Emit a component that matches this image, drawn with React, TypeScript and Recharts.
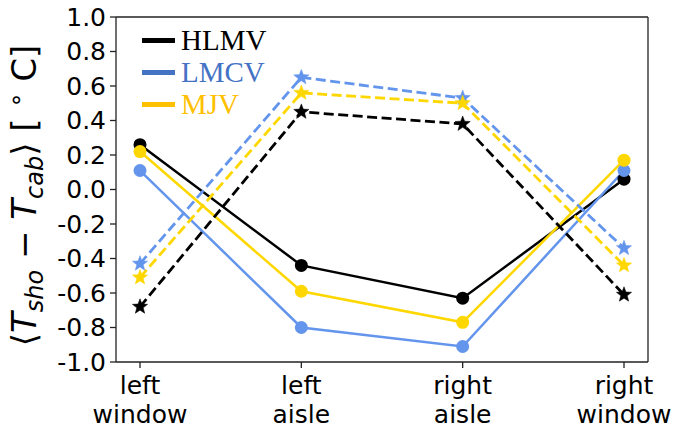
import { LineChart, Line, XAxis, YAxis, Legend } from 'recharts'

const positions = ['left window', 'left aisle', 'right aisle', 'right window']

// solid lines with circles
const hlmvSolid = [0.26, -0.44, -0.63, 0.06]
const lmcvSolid = [0.11, -0.8, -0.91, 0.11]
const mjvSolid = [0.22, -0.59, -0.77, 0.17]

// dashed lines with stars
const hlmvDashed = [-0.68, 0.45, 0.38, -0.61]
const lmcvDashed = [-0.43, 0.65, 0.53, -0.34]
const mjvDashed = [-0.51, 0.56, 0.5, -0.44]

const yTicks = [-1, -0.8, -0.6, -0.4, -0.2, 0, 0.2, 0.4, 0.6, 0.8, 1]

const legendNames = ['HLMV', 'LMCV', 'MJV']
const legendColors = ['#000000', '#4472C4', '#FFC000']

const BLACK = '#000000'
const BLUE = '#6495ED'
const GOLD = '#FFD700'

const chartData = positions.map((pos, i) => ({
  pos,
  hlmvSolid: hlmvSolid[i],
  lmcvSolid: lmcvSolid[i],
  mjvSolid: mjvSolid[i],
  hlmvDashed: hlmvDashed[i],
  lmcvDashed: lmcvDashed[i],
  mjvDashed: mjvDashed[i],
}))

const tickFont = { fontFamily: 'DejaVu Sans', fontSize: 25, fill: '#000' }
const frame = { stroke: '#222', strokeWidth: 1.3 }

function starDot(color: string) {
  return (props: any) => {
    const { cx, cy, index } = props
    if (cx == null || cy == null) return <g key={index} />
    const outer = 8
    const inner = 3.4
    const pts: string[] = []
    for (let k = 0; k < 10; k++) {
      const r = k % 2 === 0 ? outer : inner
      const a = -Math.PI / 2 + (k * Math.PI) / 5
      pts.push(`${cx + r * Math.cos(a)},${cy + r * Math.sin(a)}`)
    }
    return <polygon key={index} points={pts.join(' ')} fill={color} stroke={color} strokeWidth={0.5} />
  }
}

function XTick(props: any) {
  const { x, y, payload } = props
  const [first, second] = String(payload.value).split(' ')
  return (
    <text x={x} y={y} textAnchor="middle" {...tickFont}>
      <tspan x={x} dy={24}>{first}</tspan>
      <tspan x={x} dy={29}>{second}</tspan>
    </text>
  )
}

function YLabel(props: any) {
  const vb = props.viewBox || { x: 0, y: 17, width: 116, height: 345 }
  const cx = vb.x + 36
  const cy = vb.y + vb.height / 2 + 6
  const sub = 24
  return (
    <text
      x={cx}
      y={cy}
      transform={`rotate(-90 ${cx} ${cy})`}
      textAnchor="middle"
      fontFamily="DejaVu Sans"
      fontSize={34}
      fill="#000"
    >
      <tspan>⟨</tspan>
      <tspan fontStyle="italic">T</tspan>
      <tspan fontStyle="italic" fontSize={sub} dy={7}>sho</tspan>
      <tspan dy={-7}> − </tspan>
      <tspan fontStyle="italic">T</tspan>
      <tspan fontStyle="italic" fontSize={sub} dy={7}>cab</tspan>
      <tspan dy={-7}>⟩ [ </tspan>
      <tspan fontSize={sub} dy={-12}>∘</tspan>
      <tspan dy={12}> C]</tspan>
    </text>
  )
}

function LegendBox() {
  return (
    <div>
      {legendNames.map((name, i) => (
        <div key={name} style={{ display: 'flex', alignItems: 'center', height: 32 }}>
          <span style={{ display: 'inline-block', width: 33, height: 5, background: legendColors[i] }} />
          <span
            style={{
              marginLeft: 6,
              fontFamily: 'Liberation Serif',
              fontSize: 29,
              color: legendColors[i],
              lineHeight: '32px',
            }}
          >
            {name}
          </span>
        </div>
      ))}
    </div>
  )
}

export default function App() {
  return (
    <div style={{ position: 'absolute', left: 0, top: 0, background: '#fff' }}>
      <LineChart width={688} height={428} data={chartData} margin={{ top: 16, right: 39, bottom: 0, left: 0 }}>
        <XAxis
          dataKey="pos"
          height={66}
          padding={{ left: 24, right: 24 }}
          tick={<XTick />}
          tickSize={6}
          tickLine={frame}
          axisLine={frame}
          interval={0}
        />
        <XAxis
          xAxisId="top"
          dataKey="pos"
          orientation="top"
          height={1}
          padding={{ left: 24, right: 24 }}
          tick={false}
          tickLine={false}
          axisLine={frame}
        />
        <YAxis
          width={116}
          domain={[-1, 1]}
          ticks={yTicks}
          interval={0}
          tickFormatter={(v: number) => v.toFixed(1)}
          tick={tickFont}
          tickSize={6}
          tickMargin={4}
          tickLine={frame}
          axisLine={frame}
          label={<YLabel />}
        />
        <YAxis
          yAxisId="right"
          orientation="right"
          width={1}
          domain={[-1, 1]}
          tick={false}
          tickLine={false}
          axisLine={frame}
        />
        <Legend
          content={<LegendBox />}
          layout="vertical"
          verticalAlign="middle"
          align="center"
          wrapperStyle={{ top: 24, left: 142, width: 'auto' }}
        />
        <Line dataKey="hlmvSolid" stroke={BLACK} strokeWidth={2.5} dot={{ r: 6.5, fill: BLACK, strokeWidth: 0 }} isAnimationActive={false} />
        <Line dataKey="lmcvSolid" stroke={BLUE} strokeWidth={2.5} dot={{ r: 6.5, fill: BLUE, strokeWidth: 0 }} isAnimationActive={false} />
        <Line dataKey="mjvSolid" stroke={GOLD} strokeWidth={2.5} dot={{ r: 6.5, fill: GOLD, strokeWidth: 0 }} isAnimationActive={false} />
        <Line dataKey="hlmvDashed" stroke={BLACK} strokeWidth={2.8} strokeDasharray="10 4.5" dot={starDot(BLACK)} isAnimationActive={false} />
        <Line dataKey="lmcvDashed" stroke={BLUE} strokeWidth={2.8} strokeDasharray="10 4.5" dot={starDot(BLUE)} isAnimationActive={false} />
        <Line dataKey="mjvDashed" stroke={GOLD} strokeWidth={2.8} strokeDasharray="10 4.5" dot={starDot(GOLD)} isAnimationActive={false} />
      </LineChart>
    </div>
  )
}
